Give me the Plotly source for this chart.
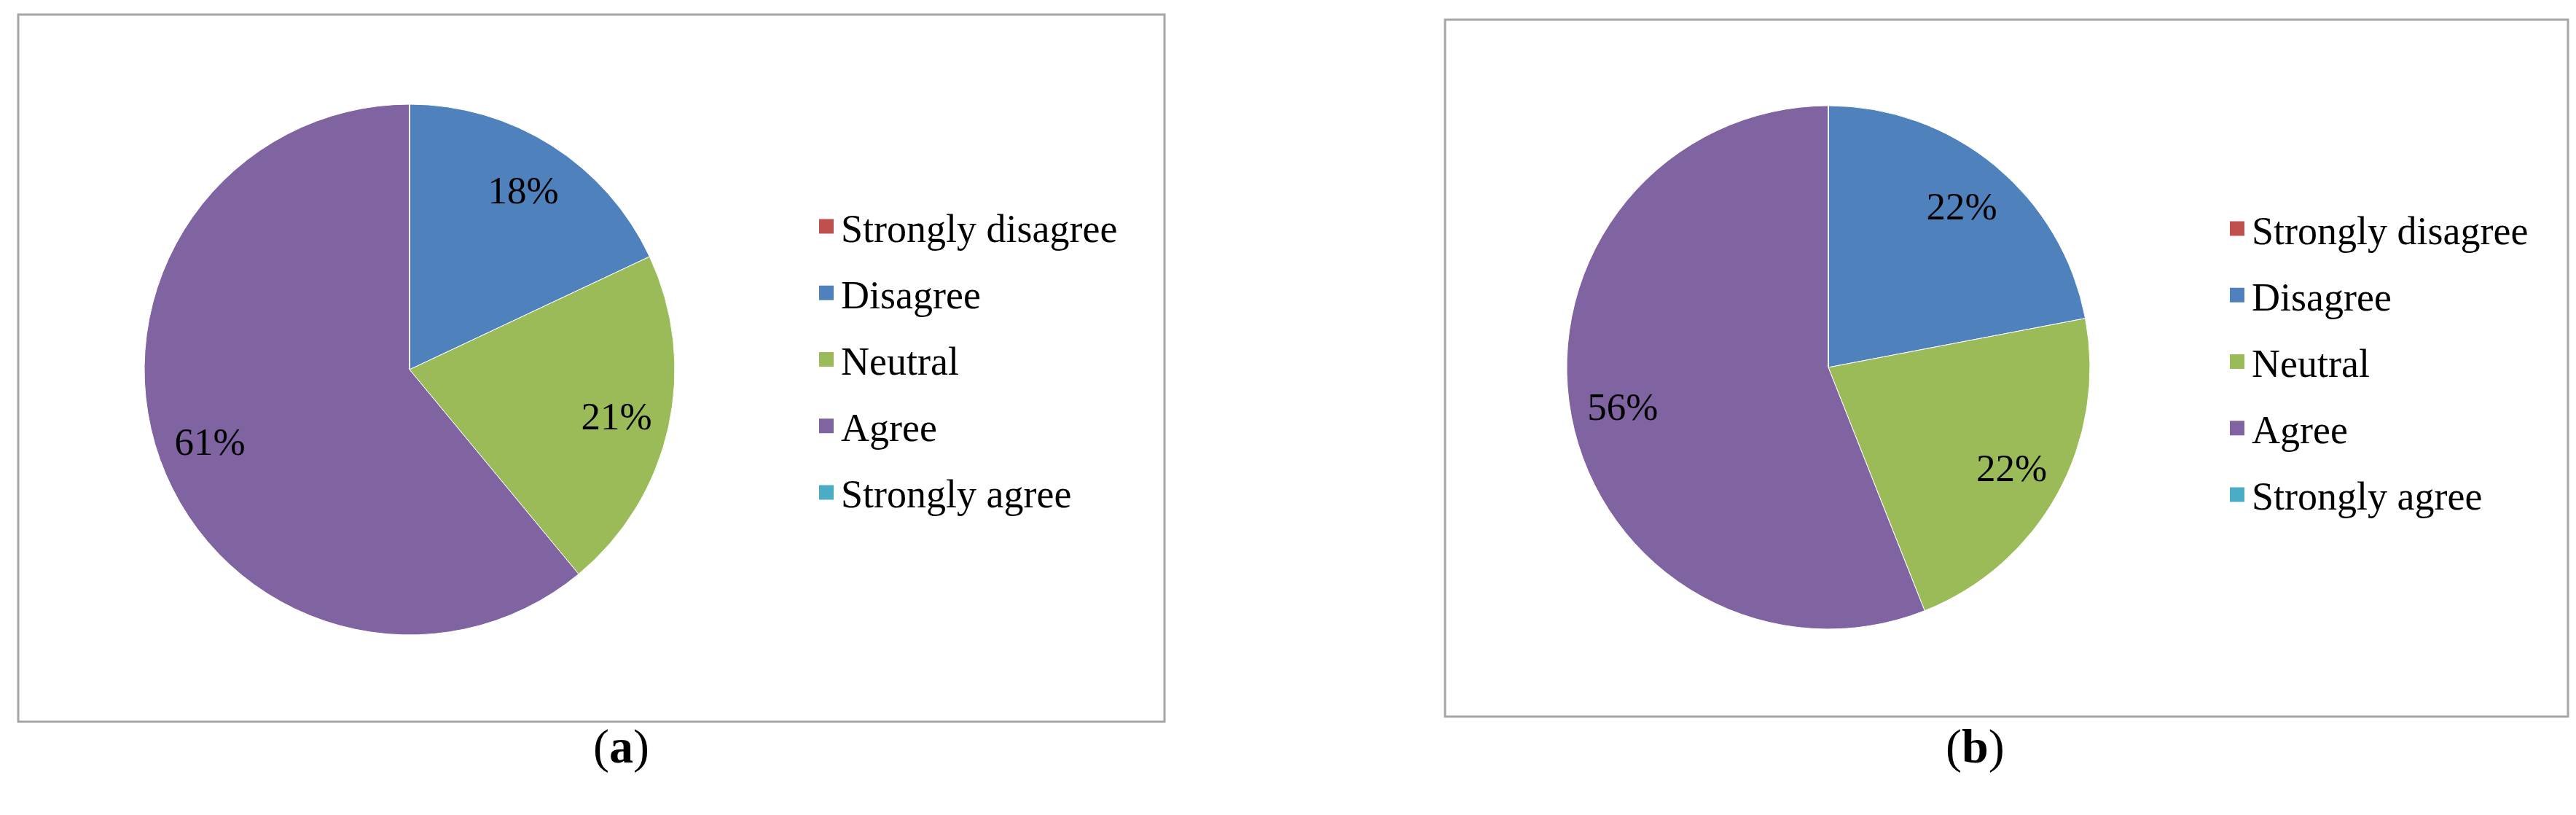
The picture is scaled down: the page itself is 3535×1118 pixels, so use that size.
import plotly.graph_objects as go

categories = ["Strongly disagree", "Disagree", "Neutral", "Agree", "Strongly agree"]
colors = ["#C0504D", "#4F81BD", "#9BBB59", "#8064A2", "#4BACC6"]
values_a = [0, 18, 21, 61, 0]
values_b = [0, 22, 22, 56, 0]
captions = ["(<b>a</b>)", "(<b>b</b>)"]

W, H = 3535, 1118
FONT = "Liberation Serif, Times New Roman, serif"


def px_x(v):
    return v / W


def px_y(v):
    return 1 - v / H


def pie(values, dom_x, dom_y):
    dom = dict(x=dom_x, y=dom_y)
    common = dict(labels=categories, values=values, sort=False,
                  direction="clockwise", rotation=0, showlegend=False, domain=dom)
    # the slices themselves
    base = go.Pie(
        marker=dict(colors=colors, line=dict(color="white", width=1)),
        textinfo="none", hoverinfo="label+percent", **common,
    )
    # transparent ring on top that only carries the % labels (puts them out near the rim, like Excel)
    ring = go.Pie(
        hole=0.6,
        text=[f"{v}%" if v else "" for v in values],
        textinfo="text",
        textposition="inside",
        insidetextorientation="horizontal",
        insidetextfont=dict(family=FONT, size=53, color="black"),
        marker=dict(colors=["rgba(0,0,0,0)"] * len(values), line=dict(width=0)),
        hoverinfo="skip", **common,
    )
    return [base, ring]


fig = go.Figure()
fig.add_traces(pie(values_a, [px_x(190), px_x(918)], [px_y(863), px_y(135)]))
fig.add_traces(pie(values_b, [px_x(2142), px_x(2860)], [px_y(855), px_y(137)]))

# legend entries, one group per category so the row spacing can be set
for leg in ["legend", "legend2"]:
    for name, col in zip(categories, colors):
        fig.add_trace(go.Scatter(
            x=[None], y=[None], mode="markers", name=name,
            legend=leg, legendgroup=leg + name,
            marker=dict(symbol="square", size=16, color=col,
                        line=dict(color=col, width=4)),
        ))

legend_style = dict(
    font=dict(family=FONT, size=54, color="black"),
    bgcolor="rgba(0,0,0,0)", borderwidth=0,
    tracegroupgap=18, itemclick=False, yanchor="top", xanchor="left",
)

fig.update_layout(
    width=W, height=H,
    margin=dict(l=0, r=0, t=0, b=0),
    paper_bgcolor="white",
    plot_bgcolor="white",
    xaxis=dict(visible=False),
    yaxis=dict(visible=False),
    uniformtext=dict(minsize=53, mode="show"),
    legend=dict(x=px_x(1106), y=px_y(261), **legend_style),
    legend2=dict(x=px_x(3042), y=px_y(264), **legend_style),
    shapes=[
        dict(type="rect", xref="paper", yref="paper",
             x0=px_x(17), x1=px_x(1590), y0=px_y(982), y1=px_y(12),
             line=dict(color="#A6A6A6", width=3)),
        dict(type="rect", xref="paper", yref="paper",
             x0=px_x(1975), x1=px_x(3516), y0=px_y(975), y1=px_y(19),
             line=dict(color="#A6A6A6", width=3)),
    ],
    annotations=[
        dict(text=captions[0], x=px_x(804), y=px_y(1055), xref="paper", yref="paper",
             showarrow=False, font=dict(family=FONT, size=66, color="black")),
        dict(text=captions[1], x=px_x(2745), y=px_y(1055), xref="paper", yref="paper",
             showarrow=False, font=dict(family=FONT, size=66, color="black")),
    ],
)

fig.write_html("out.html")
